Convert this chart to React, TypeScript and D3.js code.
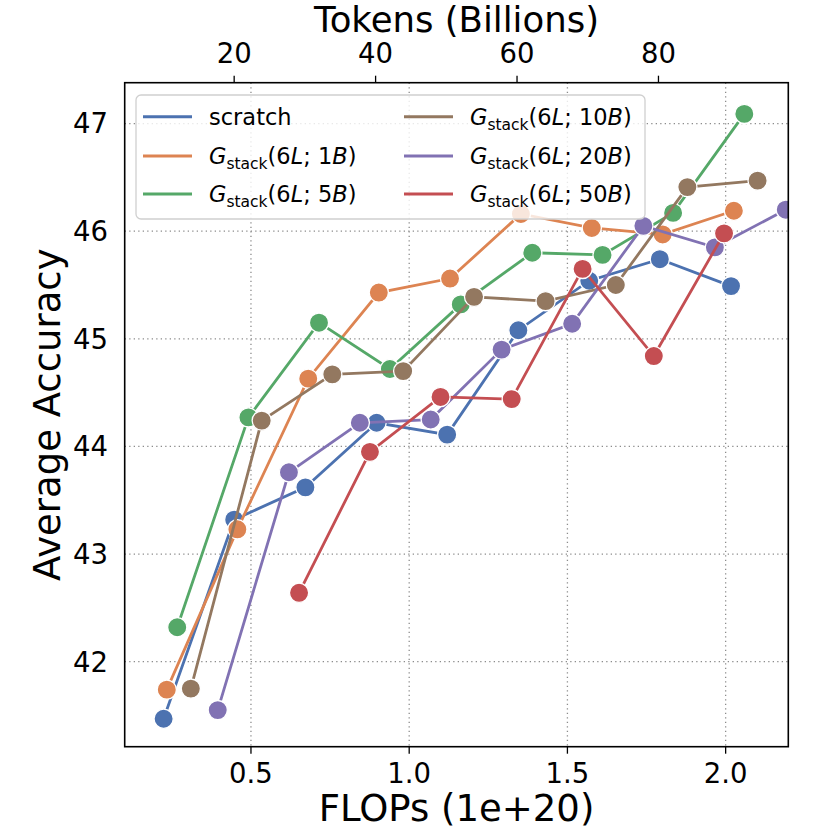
import * as d3 from "d3";

// FLOPs (1e+20) per checkpoint
const scratchX = [0.224, 0.447, 0.672, 0.897, 1.12, 1.345, 1.569, 1.792, 2.017];
const scratchY = [41.47, 43.32, 43.62, 44.22, 44.11, 45.08, 45.54, 45.74, 45.49];
const g1X = [0.234, 0.457, 0.681, 0.904, 1.129, 1.353, 1.577, 1.801, 2.026];
const g1Y = [41.74, 43.23, 44.63, 45.43, 45.56, 46.16, 46.03, 45.97, 46.19];
const g5X = [0.267, 0.492, 0.715, 0.939, 1.163, 1.389, 1.611, 1.834, 2.059];
const g5Y = [42.32, 44.27, 45.15, 44.72, 45.32, 45.8, 45.78, 46.17, 47.09];
const g10X = [0.31, 0.534, 0.757, 0.981, 1.205, 1.431, 1.653, 1.879, 2.101];
const g10Y = [41.75, 44.24, 44.67, 44.7, 45.39, 45.35, 45.5, 46.41, 46.47];
const g20X = [0.395, 0.62, 0.844, 1.068, 1.292, 1.515, 1.74, 1.966, 2.19];
const g20Y = [41.55, 43.76, 44.22, 44.25, 44.9, 45.14, 46.05, 45.85, 46.2];
const g50X = [0.652, 0.876, 1.099, 1.324, 1.548, 1.773, 1.995];
const g50Y = [42.64, 43.95, 44.46, 44.44, 45.65, 44.84, 45.98];

const seriesNames = ["scratch", "1B", "5B", "10B", "20B", "50B"];
const colors = ["#4C72B0", "#DD8452", "#55A868", "#937860", "#8172B3", "#C44E52"];

const xTicks = [0.5, 1.0, 1.5, 2.0];
const yTicks = [42, 43, 44, 45, 46, 47];
const tokenTicks = [20, 40, 60, 80];
const tokensPerFlop = 44.75;

const W = 830;
const H = 830;
const m = { left: 124.7, right: 788.3, top: 82.7, bottom: 746.7 };
const font = "DejaVu Sans, sans-serif";

const App = () => {
  const x = d3.scaleLinear().domain([0.101, 2.198]).range([m.left, m.right]);
  const y = d3.scaleLinear().domain([41.21, 47.38]).range([m.bottom, m.top]);
  const xTop = d3
    .scaleLinear()
    .domain(x.domain().map((d) => d * tokensPerFlop))
    .range([m.left, m.right]);

  const xsAll = [scratchX, g1X, g5X, g10X, g20X, g50X];
  const ysAll = [scratchY, g1Y, g5Y, g10Y, g20Y, g50Y];
  const series = seriesNames.map((name, i) => ({
    name,
    color: colors[i],
    pts: xsAll[i].map((v, j) => [v, ysAll[i][j]] as [number, number]),
  }));

  const line = d3
    .line<[number, number]>()
    .x((d) => x(d[0]))
    .y((d) => y(d[1]));

  const legendRows = [116.8, 156, 194];
  const legendCols = [143, 404];

  const label = (name: string) => {
    if (name === "scratch") return <tspan>scratch</tspan>;
    return (
      <>
        <tspan fontStyle="italic">G</tspan>
        <tspan fontSize="15.5" dy="5">stack</tspan>
        <tspan dy="-5">(6</tspan>
        <tspan fontStyle="italic">L</tspan>
        <tspan>; {name.replace("B", "")}</tspan>
        <tspan fontStyle="italic">B</tspan>
        <tspan>)</tspan>
      </>
    );
  };

  return (
    <svg width={W} height={H} style={{ position: "absolute", left: 0, top: 0 }} fontFamily={font}>
      <defs>
        <clipPath id="plot">
          <rect x={m.left} y={m.top} width={m.right - m.left} height={m.bottom - m.top} />
        </clipPath>
      </defs>
      <rect width={W} height={H} fill="#fff" />

      {/* grid */}
      <g stroke="#8c8c8c" strokeWidth={1.3} strokeDasharray="1.3,3.2">
        {xTicks.map((t) => (
          <line key={"gx" + t} x1={x(t)} x2={x(t)} y1={m.top} y2={m.bottom} />
        ))}
        {yTicks.map((t) => (
          <line key={"gy" + t} x1={m.left} x2={m.right} y1={y(t)} y2={y(t)} />
        ))}
      </g>

      {/* series */}
      <g clipPath="url(#plot)">
        {series.map((s) => (
          <g key={s.name}>
            <path d={line(s.pts) ?? ""} fill="none" stroke={s.color} strokeWidth={2.8} />
            {s.pts.map((p, j) => (
              <circle key={j} cx={x(p[0])} cy={y(p[1])} r={9.6} fill={s.color} stroke="#fff" strokeWidth={1.3} />
            ))}
          </g>
        ))}
      </g>

      {/* frame */}
      <rect
        x={m.left}
        y={m.top}
        width={m.right - m.left}
        height={m.bottom - m.top}
        fill="none"
        stroke="#000"
        strokeWidth={1.6}
      />

      {/* bottom axis */}
      {xTicks.map((t) => (
        <g key={"bx" + t}>
          <line x1={x(t)} x2={x(t)} y1={m.bottom} y2={m.bottom + 7} stroke="#000" strokeWidth={1.3} />
          <text x={x(t)} y={783} textAnchor="middle" fontSize={27.5}>
            {t.toFixed(1)}
          </text>
        </g>
      ))}
      <text x={(m.left + m.right) / 2} y={821} textAnchor="middle" fontSize={37}>
        FLOPs (1e+20)
      </text>

      {/* top axis */}
      {tokenTicks.map((t) => (
        <g key={"tx" + t}>
          <line x1={xTop(t)} x2={xTop(t)} y1={m.top} y2={m.top - 7} stroke="#000" strokeWidth={1.3} />
          <text x={xTop(t)} y={63} textAnchor="middle" fontSize={27.5}>
            {t}
          </text>
        </g>
      ))}
      <text x={(m.left + m.right) / 2} y={32} textAnchor="middle" fontSize={35.5}>
        Tokens (Billions)
      </text>

      {/* left axis */}
      {yTicks.map((t) => (
        <text key={"ly" + t} x={108} y={y(t)} dy="0.36em" textAnchor="end" fontSize={27.5}>
          {t}
        </text>
      ))}
      <text
        transform={`translate(60,${(m.top + m.bottom) / 2}) rotate(-90)`}
        textAnchor="middle"
        fontSize={37}
      >
        Average Accuracy
      </text>

      {/* legend */}
      <rect x={136} y={95} width={509} height={124} rx={5} fill="#fff" fillOpacity={0.8} stroke="#d0d0d0" strokeWidth={1.3} />
      {series.map((s, i) => {
        const col = Math.floor(i / 3);
        const row = i % 3;
        const lx = legendCols[col];
        const ly = legendRows[row];
        return (
          <g key={"lg" + s.name}>
            <line x1={lx} x2={lx + 49} y1={ly} y2={ly} stroke={s.color} strokeWidth={3} />
            <text x={lx + 66} y={ly + 8} fontSize={22.5}>
              {label(s.name)}
            </text>
          </g>
        );
      })}
    </svg>
  );
};

export default App;
